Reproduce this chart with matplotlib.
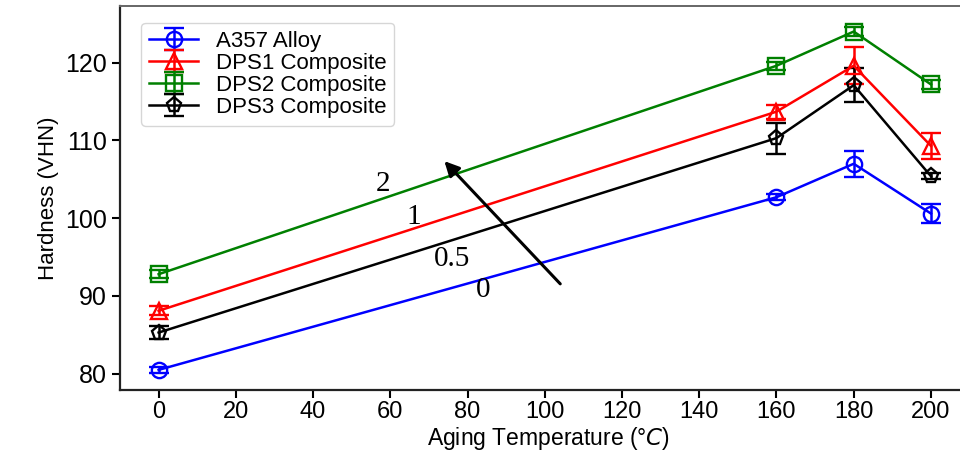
import matplotlib
matplotlib.use("Agg")
import matplotlib.pyplot as plt

# aging temperature (°C)
temps = [0, 160, 180, 200]

# hardness values
a357 = [80.5, 102.7, 107.0, 100.6]
a357_err = [0.4, 0.4, 1.7, 1.2]
dps1 = [88.1, 113.7, 119.6, 109.3]
dps1_err = [0.6, 0.9, 2.4, 1.7]
dps2 = [92.8, 119.6, 124.0, 117.2]
dps2_err = [0.5, 0.5, 0.6, 0.6]
dps3 = [85.3, 110.3, 117.1, 105.4]
dps3_err = [0.8, 2.0, 2.2, 0.4]

labels = ["A357 Alloy", "DPS1 Composite", "DPS2 Composite", "DPS3 Composite"]
colors = ["blue", "red", "green", "black"]
markers = ["o", "^", "s", "p"]

plt.rcParams["font.family"] = ["Liberation Sans", "DejaVu Sans"]

fig = plt.figure(figsize=(9.6, 4.51), dpi=100)
ax = fig.add_axes([0.125, 0.135, 0.893, 0.852])

series = [(a357, a357_err), (dps1, dps1_err), (dps2, dps2_err), (dps3, dps3_err)]
for (vals, errs), lab, col, mk in zip(series, labels, colors, markers):
    ax.errorbar(temps, vals, yerr=errs, label=lab, color=col, marker=mk,
                markersize=11, markerfacecolor="none", markeredgewidth=1.7,
                linewidth=1.8, capsize=7, elinewidth=1.8, capthick=1.8)

# concentration labels and arrow
serif = ["Liberation Serif", "DejaVu Serif"]
ax.text(58, 104.4, "2", family=serif, fontsize=21, ha="center", va="center")
ax.text(66, 100.2, "1", family=serif, fontsize=21, ha="center", va="center")
ax.text(76, 94.8, "0.5", family=serif, fontsize=21, ha="center", va="center")
ax.text(84, 90.8, "0", family=serif, fontsize=21, ha="center", va="center")
ax.annotate("", xy=(73.5, 107.6), xytext=(104.5, 91.3),
            arrowprops=dict(arrowstyle="-|>", color="black", lw=2.2,
                            mutation_scale=22))

ax.set_xlim(-10, 212)
ax.set_ylim(77.9, 127.3)
ax.set_xticks(range(0, 201, 20))
ax.set_yticks([80, 90, 100, 110, 120])
ax.tick_params(axis="y", labelsize=18, length=6, width=1.5, direction="out")
ax.tick_params(axis="x", labelsize=17, length=6, width=1.5, direction="out", pad=2)
ax.set_xlabel("Aging Temperature (°$C$)", fontsize=16.5, labelpad=1)
ax.set_ylabel("Hardness (VHN)", fontsize=16)

for side in ["left", "bottom"]:
    ax.spines[side].set_linewidth(1.6)
    ax.spines[side].set_color("#222222")
ax.spines["top"].set_color("#666666")
ax.spines["top"].set_linewidth(1.4)

ax.legend(loc="upper left", fontsize=16, frameon=True, edgecolor="#cccccc",
          fancybox=True, handlelength=2.2, borderpad=0.35, labelspacing=0.05,
          handletextpad=0.8, bbox_to_anchor=(0.012, 0.985))

plt.savefig("out.png", dpi=100)
